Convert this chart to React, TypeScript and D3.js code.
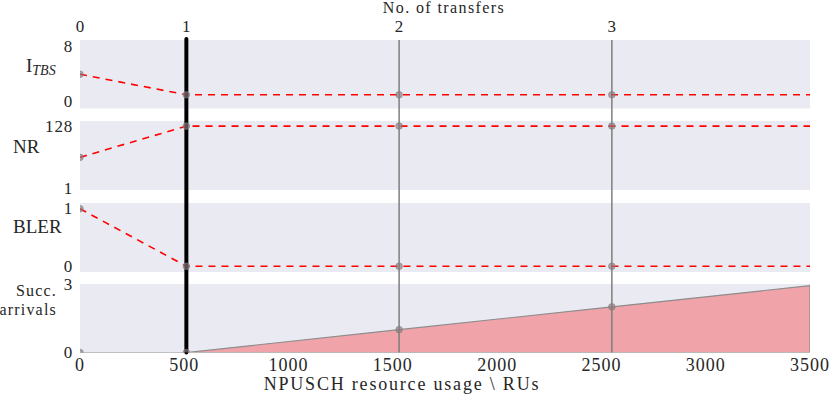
import React from 'react';
import * as d3 from 'd3';

// transfers (top axis) and where they sit on the RU axis
const transferLabels = ['0', '1', '2', '3'];
const transferRUs = [0, 510, 1530, 2550];
const ruMax = 3500;
const ruTicks = [0, 500, 1000, 1500, 2000, 2500, 3000, 3500];

// per-transfer series
const itbsValues = [4, 1, 1, 1];
const nrValues = [64, 128, 128, 128];
const blerValues = [1, 0, 0, 0];

// successful arrivals (area)
const arrivalRUs = [0, 510, 1530, 2550, 3500];
const arrivalValues = [0, 0, 1, 2, 2.93];

const W = 830;
const H = 398;
const left = 80;
const right = 810;
const font = '"Liberation Serif", "Times New Roman", Times, serif';
const ink = '#262626';

const panels = [
  { key: 'itbs', top: 40, bottom: 108.5, domain: [-1, 9], ticks: [0, 8], values: itbsValues },
  { key: 'nr', top: 121, bottom: 190, domain: [-3, 138.5], ticks: [1, 128], values: nrValues },
  { key: 'bler', top: 203, bottom: 272, domain: [-0.1, 1.1], ticks: [0, 1], values: blerValues },
  { key: 'arr', top: 284, bottom: 352.5, domain: [0, 3], ticks: [0, 3], values: [] as number[] },
];

const x = d3.scaleLinear().domain([0, ruMax]).range([left, right]);

const App = () => {
  const lineTop = panels[0].top;
  const lineBottom = panels[3].bottom;

  return (
    <svg width={W} height={H} style={{ position: 'absolute', left: 0, top: 0, fontFamily: font }}>
      <defs>
        {panels.map(p => (
          <clipPath id={`clip-${p.key}`} key={p.key}>
            <rect x={left} y={p.top} width={right - left} height={p.bottom - p.top} />
          </clipPath>
        ))}
      </defs>

      {panels.map(p => (
        <rect key={p.key} x={left} y={p.top} width={right - left} height={p.bottom - p.top} fill="#eaeaf2" />
      ))}

      {/* arrivals area */}
      {(() => {
        const p = panels[3];
        const y = d3.scaleLinear().domain(p.domain).range([p.bottom, p.top]);
        const pts = arrivalRUs.map((r, i) => [r, arrivalValues[i]] as [number, number]);
        const area = d3.area<[number, number]>().x(d => x(d[0])).y0(y(0)).y1(d => y(d[1]));
        return (
          <g clipPath={`url(#clip-${p.key})`}>
            <path d={area(pts) ?? ''} fill="#f0a3a9" stroke="#8c8c8c" strokeWidth={1.2} />
          </g>
        );
      })()}

      {/* transfer markers: vertical lines */}
      {transferRUs.slice(2).map((r, i) => (
        <line key={i} x1={x(r)} x2={x(r)} y1={lineTop} y2={lineBottom} stroke="#7f7f7f" strokeWidth={1.5} />
      ))}

      {/* dashed series */}
      {panels.slice(0, 3).map(p => {
        const y = d3.scaleLinear().domain(p.domain).range([p.bottom, p.top]);
        const pts = transferRUs.map((r, i) => [r, p.values[i]] as [number, number]);
        pts.push([ruMax, p.values[p.values.length - 1]]);
        const line = d3.line<[number, number]>().x(d => x(d[0])).y(d => y(d[1]));
        return (
          <g key={p.key} clipPath={`url(#clip-${p.key})`}>
            <path d={line(pts) ?? ''} fill="none" stroke="#ff0000" strokeWidth={1.6} strokeDasharray="7,6" />
          </g>
        );
      })}

      <line x1={x(transferRUs[1])} x2={x(transferRUs[1])} y1={lineTop - 1} y2={lineBottom} stroke="#000" strokeWidth={4} strokeLinecap="round" />

      {/* point markers */}
      {panels.map(p => {
        const y = d3.scaleLinear().domain(p.domain).range([p.bottom, p.top]);
        const vals = p.key === 'arr' ? arrivalValues.slice(0, 4) : p.values;
        return (
          <g key={p.key} clipPath={`url(#clip-${p.key})`}>
            {transferRUs.map((r, i) => (
              <circle key={i} cx={x(r)} cy={y(vals[i])} r={3.3} fill="rgba(140,120,125,0.65)" stroke="rgba(128,128,128,0.8)" strokeWidth={0.8} />
            ))}
          </g>
        );
      })}

      {/* y tick labels */}
      {panels.map(p => {
        const y = d3.scaleLinear().domain(p.domain).range([p.bottom, p.top]);
        return p.ticks.map(t => (
          <text key={`${p.key}-${t}`} x={73} y={y(t)} dy="0.33em" textAnchor="end" fontSize={17} fill={ink} letterSpacing={0.8}>
            {t}
          </text>
        ));
      })}

      {/* panel labels */}
      <text x={26} y={72} fontSize={19} fill={ink}>
        I<tspan fontStyle="italic" fontSize={14} dy={3}>TBS</tspan>
      </text>
      <text x={13} y={153} fontSize={19} fill={ink}>NR</text>
      <text x={13} y={233} fontSize={19} fill={ink}>BLER</text>
      <text x={57} y={296} fontSize={16} textAnchor="end" fill={ink} letterSpacing={1.2}>Succ.</text>
      <text x={57} y={315} fontSize={16} textAnchor="end" fill={ink} letterSpacing={1.2}>arrivals</text>

      {/* bottom axis */}
      {ruTicks.map(t => (
        <text key={t} x={x(t)} y={371} textAnchor="middle" fontSize={18} fill={ink} letterSpacing={1}>
          {t}
        </text>
      ))}
      <text x={402} y={390} textAnchor="middle" fontSize={18} fill={ink} letterSpacing={1.8}>
        NPUSCH resource usage \ RUs
      </text>

      {/* top axis */}
      {transferRUs.map((r, i) => (
        <text key={i} x={x(r)} y={32} textAnchor="middle" fontSize={17} fill={ink}>
          {transferLabels[i]}
        </text>
      ))}
      <text x={444} y={13} textAnchor="middle" fontSize={16} fill={ink} letterSpacing={1.4}>
        No. of transfers
      </text>
    </svg>
  );
};

export default App;
